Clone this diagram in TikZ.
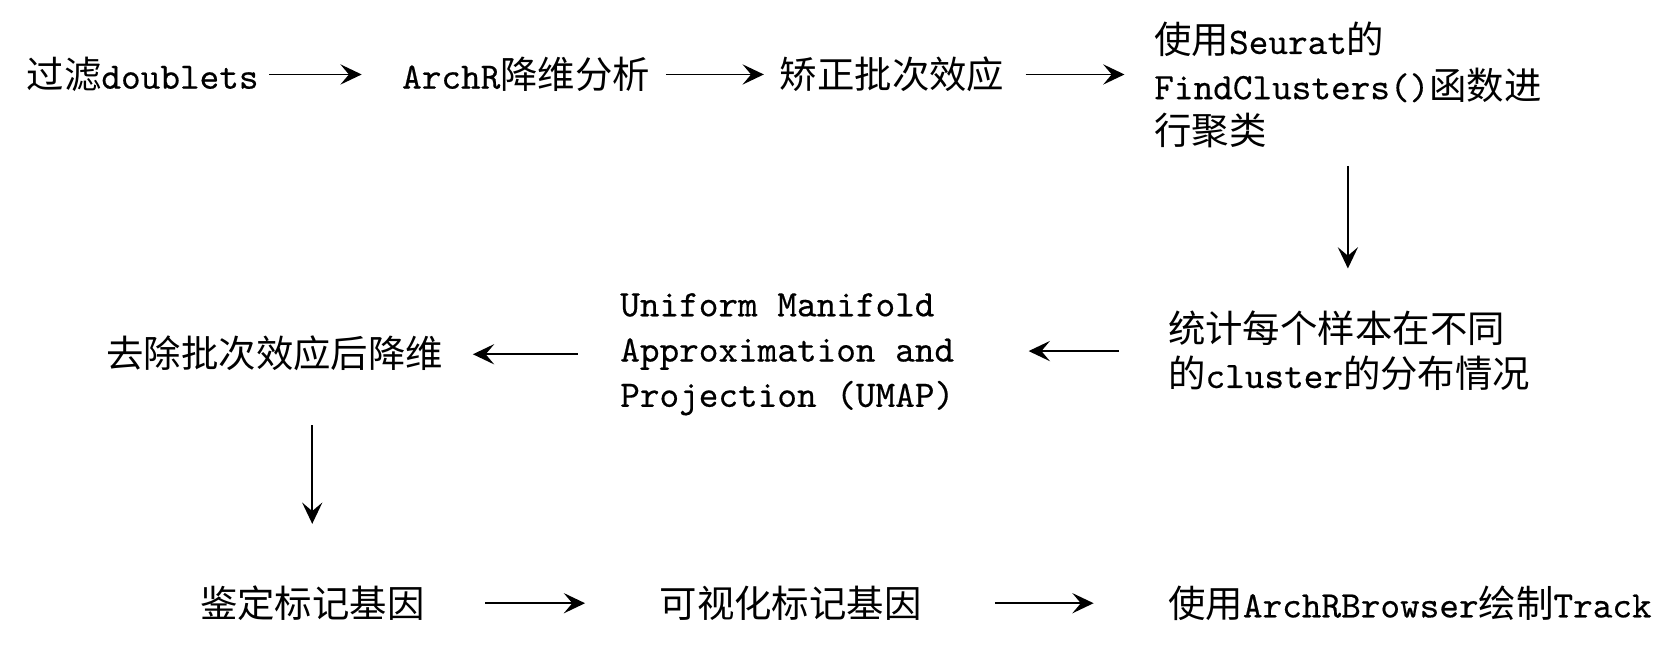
\documentclass[tikz,border=0pt]{standalone}
\usepackage{fontspec}
\setmainfont{Latin Modern Mono}[FakeBold=0.4]
\newfontfamily\cjk{Noto Sans CJK SC}
\usetikzlibrary{arrows.meta}
\newcommand\zh[1]{{\cjk #1}}
\tikzset{
 lbl/.style={inner sep=0pt, outer sep=0pt, font=\fontsize{10}{12.1}\selectfont, text height=8.8pt, text depth=1.2pt, anchor=west},
 lblm/.style={inner sep=0pt, outer sep=0pt, font=\fontsize{10}{12.1}\selectfont, align=left, anchor=west},
 arr/.style={-{Stealth[length=2mm,width=1.9mm,inset=0.8mm]}, line width=0.5pt},
}
\begin{document}
\begin{tikzpicture}[x=0.01cm,y=-0.01cm]
\useasboundingbox (0,0) rectangle (1566,606);
\node[lbl] (n1) at (25,70) {\zh{过滤}doublets};
\node[lbl] (n2) at (378,70) {ArchR\zh{降维分析}};
\node[lbl] (n3) at (733,70) {\zh{矫正批次效应}};
\node[lblm] (n4) at (1085,80) {\zh{使用}Seurat\zh{的}\\FindClusters()\zh{函数进}\\\zh{行聚类}};
\node[lblm] (n5) at (1098,330) {\zh{统计每个样本在不同}\\\zh{的}cluster\zh{的分布情况}};
\node[lblm] (n6) at (583,333) {Uniform Manifold\\Approximation and\\Projection (UMAP)};
\node[lbl] (n7) at (100,332) {\zh{去除批次效应后降维}};
\node[lbl] (n8) at (188,567) {\zh{鉴定标记基因}};
\node[lbl] (n9) at (620,567) {\zh{可视化标记基因}};
\node[lbl] (n10) at (1098,567) {\zh{使用}ArchRBrowser\zh{绘制}Track};

\draw[arr, shorten <=0.10cm, shorten >=0.38cm] (n1.east) -- (n2.west);
\draw[arr, shorten <=0.15cm, shorten >=0.15cm] (n2.east) -- (n3.west);
\draw[arr, shorten <=0.20cm, shorten >=0.28cm] (n3.east) -- (n3.east -| n4.west);
\draw[arr, shorten <=0.17cm, shorten >=0.40cm] (n4.south) -- (n4.south |- n5.north);
\draw[arr, shorten <=0.46cm, shorten >=0.70cm] (n5.west) -- (n5.west -| n6.east);
\draw[arr, shorten <=0.40cm, shorten >=0.28cm] (n6.west) -- (n6.west -| n7.east);
\draw[arr, shorten <=0.50cm, shorten >=0.57cm] (n8.north |- n7.south) -- (n8.north);
\draw[arr, shorten <=0.57cm, shorten >=0.70cm] (n8.east) -- (n9.west);
\draw[arr, shorten <=0.69cm, shorten >=0.70cm] (n9.east) -- (n10.west);
\end{tikzpicture}
\end{document}
